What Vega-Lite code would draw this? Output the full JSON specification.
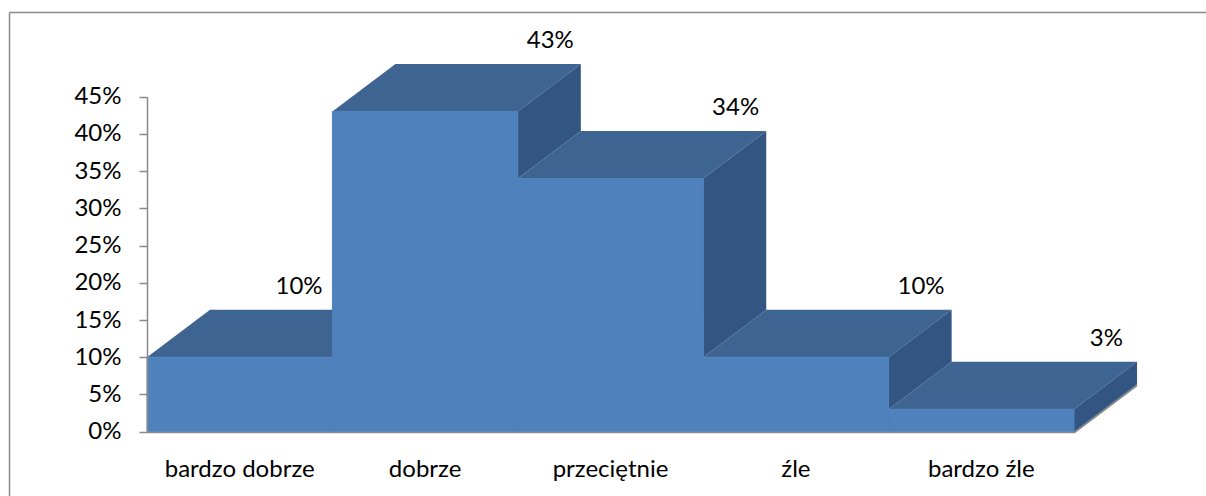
{
  "$schema": "https://vega.github.io/schema/vega-lite/v6.json",
  "width": 1197,
  "height": 484,
  "autosize": {"type": "none"},
  "padding": {"left": 9, "top": 12, "right": 0, "bottom": 0},
  "background": "white",
  "config": {
    "view": {"stroke": null},
    "font": "Lato",
    "axis": {"grid": false, "title": null}
  },
  "data": {
    "values": [
      {"cat": "bardzo dobrze", "v": 0.10},
      {"cat": "dobrze", "v": 0.43},
      {"cat": "przeciętnie", "v": 0.34},
      {"cat": "źle", "v": 0.10},
      {"cat": "bardzo źle", "v": 0.03}
    ]
  },
  "transform": [
    {"window": [{"op": "row_number", "as": "i"}, {"op": "lead", "field": "v", "as": "nxt"}]},
    {"calculate": "datum.i - 1", "as": "x0"},
    {"calculate": "datum.i", "as": "x1"},
    {"calculate": "datum.nxt == null ? 0 : datum.nxt", "as": "nx"}
  ],
  "resolve": {"scale": {"x": "independent", "y": "independent"}, "axis": {"x": "independent", "y": "independent"}},
  "layer": [
    {
      "layer": [
        {
          "transform": [
            {"filter": "datum.i == 5"},
            {"calculate": "[0,1]", "as": "t"},
            {"flatten": ["t"]},
            {"calculate": "datum.x1 + datum.t*0.34", "as": "fx"},
            {"calculate": "datum.t*0.0638", "as": "fy"}
          ],
          "mark": {"type": "line", "color": "#8a8a8a", "strokeWidth": 2, "yOffset": 1},
          "encoding": {
            "x": {"field": "fx", "type": "quantitative"},
            "y": {"field": "fy", "type": "quantitative"}
          }
        },
        {
          "transform": [
            {"calculate": "[0,1]", "as": "t"},
            {"flatten": ["t"]},
            {"calculate": "datum.v + datum.t*0.0638", "as": "ty"},
            {"calculate": "datum.x0 + datum.t*0.34", "as": "tx0"},
            {"calculate": "datum.x1 + datum.t*0.34", "as": "tx1"}
          ],
          "mark": {"type": "area", "orient": "horizontal", "color": "#3E6491"},
          "encoding": {
            "y": {"field": "ty", "type": "quantitative"},
            "x": {"field": "tx0", "type": "quantitative", "stack": null},
            "x2": {"field": "tx1"},
            "detail": {"field": "cat"}
          }
        },
        {
          "transform": [
            {"filter": "datum.v > datum.nx"},
            {"calculate": "[0,1]", "as": "t"},
            {"flatten": ["t"]},
            {"calculate": "datum.x1 + datum.t*0.34", "as": "sx"},
            {"calculate": "datum.nx + datum.t*0.0638", "as": "sy"},
            {"calculate": "datum.v + datum.t*0.0638", "as": "sy2"}
          ],
          "mark": {"type": "area", "orient": "vertical", "color": "#335581"},
          "encoding": {
            "x": {"field": "sx", "type": "quantitative"},
            "y": {"field": "sy", "type": "quantitative", "stack": null},
            "y2": {"field": "sy2"},
            "detail": {"field": "cat"}
          }
        },
        {
          "mark": {"type": "rect", "color": "#4F81BD", "stroke": "#4F81BD", "strokeWidth": 1},
          "encoding": {
            "x": {
              "field": "x0", "type": "quantitative",
              "scale": {"domain": [0, 5], "range": [138, 1065], "nice": false, "zero": false},
              "axis": {"orient": "bottom", "offset": -64, "labels": false, "ticks": false, "domainColor": "#8a8a8a", "domainWidth": 1.5, "title": null, "zindex": 1}
            },
            "x2": {"field": "x1"},
            "y": {
              "field": "v", "type": "quantitative",
              "scale": {"domain": [0, 0.45], "range": [419.7, 84.7], "nice": false},
              "axis": {
                "orient": "left",
                "values": [0, 0.05, 0.1, 0.15, 0.2, 0.25, 0.3, 0.35, 0.4, 0.45],
                "format": ".0%", "offset": -138, "tickSize": 8, "labelPadding": 18,
                "domainColor": "#8a8a8a", "tickColor": "#8a8a8a", "domainWidth": 1.5, "tickWidth": 1.5,
                "labelFontSize": 24, "labelColor": "#000000", "labelFont": "Lato", "title": null, "zindex": 1
              }
            },
            "y2": {"datum": 0}
          }
        },
        {
          "transform": [
            {"calculate": "datum.nx > datum.v ? datum.x1 - 0.18 : datum.x1 + 0.175", "as": "lx"},
            {"calculate": "datum.v + 0.0638", "as": "ly"}
          ],
          "mark": {"type": "text", "fontSize": 24, "font": "Lato", "color": "#000000", "align": "center", "baseline": "alphabetic", "dy": -16},
          "encoding": {
            "x": {"field": "lx", "type": "quantitative"},
            "y": {"field": "ly", "type": "quantitative"},
            "text": {"field": "v", "type": "quantitative", "format": ".0%"}
          }
        },
        {
          "transform": [
            {"calculate": "datum.x0 + 0.5", "as": "xc"}
          ],
          "mark": {"type": "text", "fontSize": 24, "font": "Lato", "color": "#000000", "align": "center", "baseline": "alphabetic", "dy": 45},
          "encoding": {
            "x": {"field": "xc", "type": "quantitative"},
            "y": {"datum": 0},
            "text": {"field": "cat", "type": "nominal"}
          }
        }
      ]
    },
    {
      "mark": {"type": "text", "text": "", "opacity": 0},
      "encoding": {
        "x": {
          "datum": 0, "type": "quantitative",
          "scale": {"domain": [0, 1], "range": [0, 1197], "nice": false, "zero": false},
          "axis": {"orient": "top", "labels": false, "ticks": false, "domainColor": "#8a8a8a", "domainWidth": 1.5, "title": null}
        },
        "y": {
          "datum": 0, "type": "quantitative",
          "scale": {"domain": [0, 1], "range": [0, 484], "nice": false, "zero": false},
          "axis": {"orient": "left", "labels": false, "ticks": false, "domainColor": "#8a8a8a", "domainWidth": 1.5, "title": null}
        }
      }
    }
  ]
}
